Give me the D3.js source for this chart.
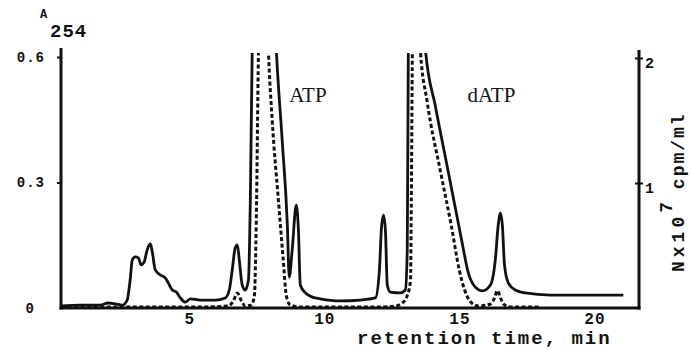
<!DOCTYPE html>
<html>
<head>
<meta charset="utf-8">
<script src="https://cdn.jsdelivr.net/npm/d3@7"></script>
<style>
  html, body { margin: 0; padding: 0; background: #fff; }
  svg { display: block; }
  .mono { font-family: "Liberation Mono", "DejaVu Sans Mono", monospace; font-weight: bold; fill: #111; }
  .serif { font-family: "Liberation Serif", "DejaVu Serif", serif; fill: #111; }
</style>
</head>
<body>
<script>
// ---- data ----
// solid trace: absorbance at 254 nm (left axis)
const timeSolid = [0.26,0.96,1.70,2.0,2.26,2.52,2.70,2.81,2.89,3.0,3.11,3.22,3.33,3.44,3.56,3.63,3.74,3.93,4.11,4.22,4.37,4.52,4.67,4.85,5.04,5.41,5.96,6.33,6.48,6.59,6.70,6.78,6.85,6.96,7.07,7.19,7.26,7.33,7.78,8.22,8.44,8.63,8.70,8.81,8.96,9.04,9.11,9.30,9.56,9.85,10.59,11.33,11.89,12.04,12.11,12.19,12.26,12.33,12.44,12.81,13.0,13.07,13.11,13.41,13.74,14.11,14.48,14.85,15.11,15.33,15.59,15.85,16.15,16.33,16.44,16.52,16.59,16.67,16.81,17.07,17.44,18.37,20.22,21.07];
const a254 = [0.005,0.007,0.007,0.012,0.010,0.007,0.019,0.067,0.115,0.122,0.120,0.103,0.110,0.139,0.153,0.134,0.091,0.079,0.072,0.060,0.043,0.038,0.024,0.014,0.022,0.019,0.019,0.024,0.043,0.091,0.144,0.151,0.115,0.055,0.043,0.067,0.258,0.62,1.5,0.62,0.40,0.199,0.074,0.139,0.246,0.187,0.055,0.036,0.026,0.022,0.017,0.019,0.024,0.091,0.187,0.222,0.187,0.055,0.038,0.036,0.043,0.139,0.62,1.5,0.62,0.483,0.361,0.239,0.153,0.084,0.050,0.041,0.055,0.115,0.199,0.227,0.199,0.103,0.060,0.043,0.036,0.031,0.031,0.031];

// dashed trace: radioactivity, N x 10^7 cpm/ml (right axis)
const timeDashed = [0.26,5.41,6.44,6.63,6.78,6.93,7.07,7.30,7.41,7.48,7.56,7.74,7.93,8.07,8.30,8.48,8.59,8.74,9.11,12.07,12.63,12.89,13.07,13.19,13.22,13.26,13.41,13.56,13.80,14.33,14.70,15.0,15.20,15.42,15.70,16.15,16.30,16.41,16.52,16.67,16.89,18.0];
const cpm = [0.008,0.008,0.016,0.056,0.12,0.056,0.016,0.024,0.10,0.70,2.05,3.5,2.05,1.5,0.86,0.38,0.10,0.024,0.008,0.008,0.016,0.04,0.10,0.22,0.86,2.05,3.5,2.05,1.66,1.06,0.66,0.30,0.14,0.048,0.016,0.032,0.08,0.14,0.08,0.024,0.008,0.008];

const xTicks = [5, 10, 15, 20];
const xTickLabels = ["5", "10", "15", "20"];
const leftTicks = [0, 0.3, 0.6];
const leftTickLabels = ["0", "0.3", "0.6"];
const rightTicks = [1, 2];
const rightTickLabels = ["1", "2"];
const peakLabels = ["ATP", "dATP"];
const peakLabelTimes = [8.7, 15.3];

// ---- layout ----
const W = 691, H = 351;
const svg = d3.select("body").append("svg").attr("width", W).attr("height", H);

const x = d3.scaleLinear().domain([0.25, 21.65]).range([61, 639]);
const yL = d3.scaleLinear().domain([0, 0.6]).range([308, 57]);
const yR = d3.scaleLinear().domain([0, 2]).range([308, 58]);

svg.append("defs").append("clipPath").attr("id", "plot")
  .append("rect").attr("x", 61).attr("y", 53).attr("width", 578).attr("height", 256);

const g = svg.append("g").attr("clip-path", "url(#plot)");

const lineSolid = d3.line().x((d, i) => x(timeSolid[i])).y(d => yL(d)).curve(d3.curveMonotoneX);
const lineDash = d3.line().x((d, i) => x(timeDashed[i])).y(d => yR(d)).curve(d3.curveMonotoneX);

g.append("path").datum(cpm).attr("d", lineDash)
  .attr("fill", "none").attr("stroke", "#111").attr("stroke-width", 3)
  .attr("stroke-dasharray", "4,2.5");

g.append("path").datum(a254).attr("d", lineSolid)
  .attr("fill", "none").attr("stroke", "#111").attr("stroke-width", 2.8)
  .attr("stroke-linejoin", "round");

// ---- axes lines ----
const axisStroke = 3;
svg.append("line").attr("x1", x(0.25)).attr("x2", x(0.25)).attr("y1", 48).attr("y2", yL(0) + 1.5)
  .attr("stroke", "#111").attr("stroke-width", axisStroke);
svg.append("line").attr("x1", x(21.65)).attr("x2", x(21.65)).attr("y1", 50).attr("y2", yR(0) + 1.5)
  .attr("stroke", "#111").attr("stroke-width", axisStroke);
svg.append("line").attr("x1", x(0.25) - 1.5).attr("x2", x(21.65) + 1.5).attr("y1", yL(0)).attr("y2", yL(0))
  .attr("stroke", "#111").attr("stroke-width", axisStroke);

// left axis
const gl = svg.append("g").attr("transform", `translate(${x(0.25)},0)`)
  .call(d3.axisLeft(yL).tickValues(leftTicks).tickSize(4).tickPadding(12)
    .tickFormat((d, i) => leftTickLabels[i]));
gl.select(".domain").remove();
gl.selectAll(".tick line").attr("stroke", "#111").attr("stroke-width", 2);
gl.selectAll(".tick").filter(d => d === 0).select("line").remove();
gl.selectAll(".tick text").attr("class", "mono").style("font-size", "14px")
  .style("letter-spacing", "1px");
gl.selectAll(".tick").filter(d => d === 0).select("text").attr("dx", "-10");

// right axis
const gr = svg.append("g").attr("transform", `translate(${x(21.65)},0)`)
  .call(d3.axisRight(yR).tickValues(rightTicks).tickSize(4).tickPadding(2)
    .tickFormat((d, i) => rightTickLabels[i]));
gr.select(".domain").remove();
gr.selectAll(".tick line").attr("x1", -4).attr("x2", 4).attr("stroke", "#111").attr("stroke-width", 2);
gr.selectAll(".tick text").attr("class", "mono").style("font-size", "15px").attr("dy", "0.6em");

// bottom axis
const gb = svg.append("g").attr("transform", `translate(0,${yL(0)})`)
  .call(d3.axisBottom(x).tickValues(xTicks).tickSize(0).tickPadding(5)
    .tickFormat((d, i) => xTickLabels[i]));
gb.select(".domain").remove();
gb.selectAll(".tick text").attr("class", "mono").style("font-size", "16px")
  .style("letter-spacing", "1px");

// ---- titles ----
svg.append("text").attr("class", "mono").attr("x", 40).attr("y", 18)
  .style("font-size", "12px").text("A");
svg.append("text").attr("class", "mono").attr("x", 50).attr("y", 37)
  .style("font-size", "19px").style("letter-spacing", "1px").text("254");

svg.append("text").attr("class", "mono").attr("x", 357).attr("y", 344)
  .style("font-size", "19px").style("letter-spacing", "2px").text("retention time, min");

const rt = svg.append("text").attr("class", "mono")
  .attr("transform", "translate(684,272) rotate(-90)")
  .style("font-size", "18px");
rt.append("tspan").style("letter-spacing", "4px").text("Nx10");
rt.append("tspan").attr("dy", -12).text("7");
rt.append("tspan").attr("dy", 12).style("letter-spacing", "2px").text(" cpm/ml");

// peak labels
svg.selectAll("text.peak").data(peakLabels).enter().append("text")
  .attr("class", "serif peak")
  .attr("x", (d, i) => x(peakLabelTimes[i]))
  .attr("y", 102)
  .style("font-size", "21px")
  .text(d => d);
</script>
</body>
</html>
